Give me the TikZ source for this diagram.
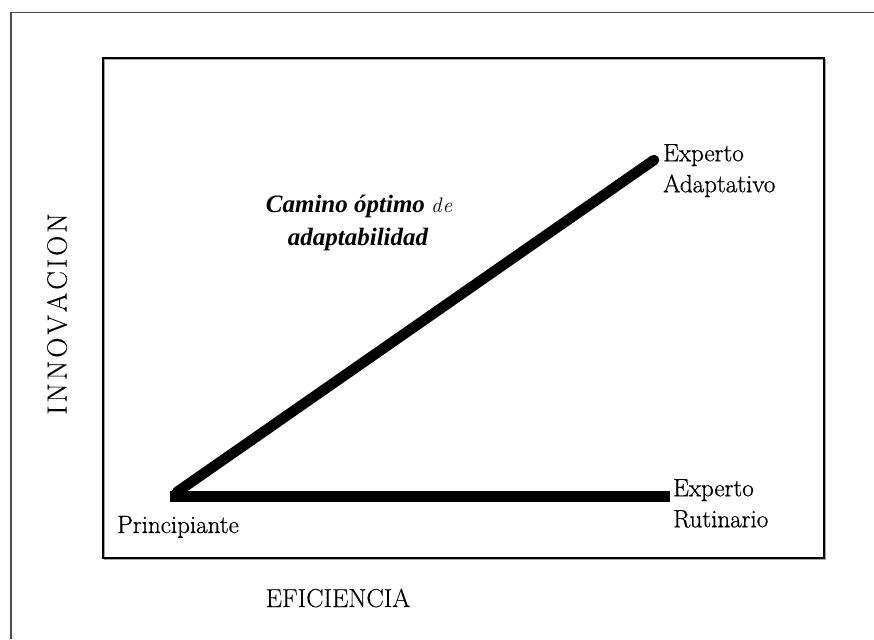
\documentclass[tikz,border=0pt]{standalone}
\usepackage{fontspec}
\newfontfamily\tms{Liberation Serif}
\newfontfamily\lbfont{Latin Modern Roman}[FakeBold=0.8]
\newfontfamily\axfont{Latin Modern Roman}[FakeBold=0.2]
\begin{document}
\begin{tikzpicture}[x=1pt,y=-1pt,
  bar/.style={line width=10.5pt},
  lbl/.style={inner sep=0pt, font=\lbfont\fontsize{25}{31}\selectfont, align=left},
  axislbl/.style={inner sep=0pt, font=\axfont\fontsize{26}{30}\selectfont},
  pathlbl/.style={inner sep=0pt, font=\fontsize{25}{33}\selectfont\tms\bfseries\itshape}]
\useasboundingbox (0,0) rectangle (874,639);
% outer frame (only left and top edges visible)
\draw[line width=1.3pt, black!70] (11,639) -- (11,12.7) -- (874,12.7);
% inner frame with shadow
\draw[line width=1.3pt, black!35] (104.5,59.5) rectangle (825.5,559.5);
\draw[line width=1.4pt, black] (103,58) rectangle (824,558);
% points
\coordinate (novice) at (177,492);
\coordinate (adaptive) at (654,160);
\coordinate (hstart) at (170,496.5);
\coordinate (routine) at (670,496.5);
% connectors
\draw[bar, line cap=round] (novice) -- (adaptive);
\draw[bar, line width=11pt, line cap=butt] (hstart) -- (routine);
% labels
\node[lbl, anchor=north west] (ea) at (663,144) {Experto\\Adaptativo};
\node[lbl, anchor=north west] (er) at (673,479) {Experto\\Rutinario};
\node[lbl, anchor=base west] (pr) at (117,533) {Principiante};
\node[pathlbl, anchor=base] (cam1) at (359,212) {Camino óptimo {\normalfont\itshape\fontsize{21}{25}\selectfont d\kern1pt e}};
\node[pathlbl, anchor=base] (cam2) at (358,245) {adaptabilidad};
\node[axislbl, anchor=center, rotate=90, font=\axfont\fontsize{28}{32}\selectfont] (inn) at (57,314) {I\kern3pt N\kern3pt N\kern3pt O\kern3pt V\kern3pt A\kern3pt C\kern3pt I\kern3pt O\kern3pt N};
\node[axislbl, anchor=base] (efi) at (338,607) {EFICIENCIA};
\end{tikzpicture}
\end{document}
